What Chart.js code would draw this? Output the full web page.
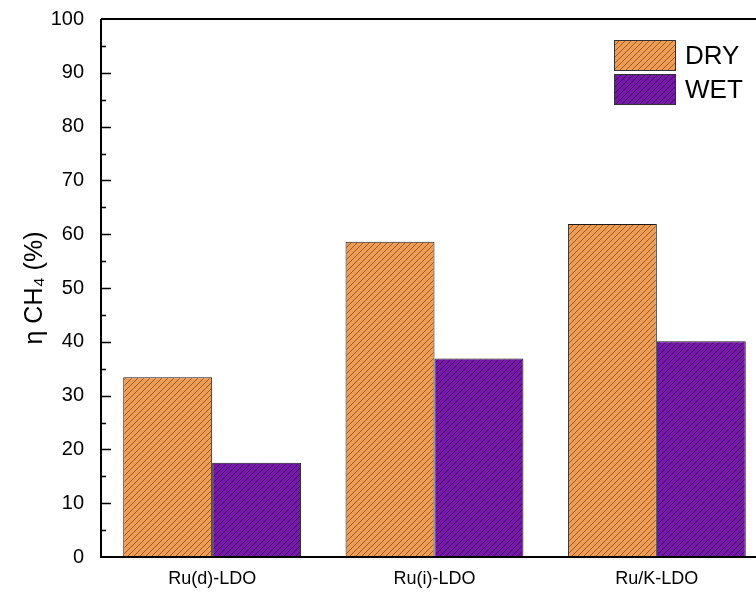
<!DOCTYPE html>
<html>
<head>
<meta charset="utf-8">
<script src="https://cdn.jsdelivr.net/npm/chart.js@4/dist/chart.umd.min.js"></script>
<style>
  html, body { margin: 0; padding: 0; background: #fff; overflow: hidden; }
  #wrap { width: 756px; height: 594px; overflow: hidden; }
</style>
</head>
<body>
<div id="wrap"><canvas id="chart" width="770" height="594"></canvas></div>
<script>
// data
const samples = ['Ru(d)-LDO', 'Ru(i)-LDO', 'Ru/K-LDO'];
const dryValues = [33.4, 58.6, 61.9];
const wetValues = [17.5, 36.9, 40.1];
const seriesNames = ['DRY', 'WET'];
const yTicks = [0, 10, 20, 30, 40, 50, 60, 70, 80, 90, 100];

const FONT = "'Liberation Sans', Arial, sans-serif";

// diagonal hatch, like the origin plot
function hatch(fill, line) {
    const s = 6;
    const c = document.createElement('canvas');
    c.width = s; c.height = s;
    const g = c.getContext('2d');
    g.fillStyle = fill;
    g.fillRect(0, 0, s, s);
    g.strokeStyle = line;
    g.lineWidth = 0.8;
    g.beginPath();
    g.moveTo(0, s); g.lineTo(s, 0);
    g.moveTo(-1, 1); g.lineTo(1, -1);
    g.moveTo(s - 1, s + 1); g.lineTo(s + 1, s - 1);
    g.stroke();
    return g.createPattern(c, 'repeat');
}

const dryFill = hatch('#EF9C54', 'rgba(80,40,10,0.7)');
const wetFill = hatch('#7818AA', 'rgba(25,0,40,0.75)');

// frame + inward ticks + legend
const framePlugin = {
    id: 'frame',
    afterDatasetsDraw(chart) {
        const ctx = chart.ctx;
        const a = chart.chartArea;
        const y = chart.scales.y;
        ctx.save();
        ctx.strokeStyle = '#000';
        ctx.lineWidth = 2;
        ctx.beginPath();
        ctx.moveTo(a.left, a.top); ctx.lineTo(a.right + 5, a.top);
        ctx.moveTo(a.left, a.top); ctx.lineTo(a.left, a.bottom);
        ctx.moveTo(a.left - 1, a.bottom); ctx.lineTo(a.right + 5, a.bottom);
        ctx.stroke();

        ctx.lineWidth = 1.5;
        ctx.beginPath();
        for (let v = 5; v < 100; v += 5) {
            const py = Math.round(y.getPixelForValue(v)) + 0.5;
            const len = v % 10 === 0 ? 10 : 5;
            ctx.moveTo(a.left, py); ctx.lineTo(a.left + len, py);
        }
        ctx.stroke();

        // legend
        const fills = [dryFill, wetFill];
        const bx = a.right - 154;
        let by = a.top + 21;
        ctx.font = '26px ' + FONT;
        ctx.textBaseline = 'middle';
        chart.data.datasets.forEach((ds, i) => {
            ctx.fillStyle = fills[i];
            ctx.fillRect(bx, by, 62, 31);
            ctx.strokeStyle = '#333';
            ctx.lineWidth = 1;
            ctx.strokeRect(bx + 0.5, by + 0.5, 61, 30);
            ctx.fillStyle = '#000';
            ctx.fillText(ds.label, bx + 71, by + 17);
            by += 34;
        });
        ctx.restore();
    }
};

new Chart('chart', {
    type: 'bar',
    data: {
        labels: samples,
        datasets: [{
            label: seriesNames[0],
            data: dryValues,
            backgroundColor: dryFill,
            borderColor: '#1a1a1a',
            borderWidth: 1
        }, {
            label: seriesNames[1],
            data: wetValues,
            backgroundColor: wetFill,
            borderColor: '#1a1a1a',
            borderWidth: 1
        }]
    },
    options: {
        responsive: false,
        animation: false,
        devicePixelRatio: 1,
        layout: { padding: { left: 16, top: 19, right: 2, bottom: 0 } },
        categoryPercentage: 0.8,
        barPercentage: 1.0,
        plugins: {
            legend: { display: false },
            tooltip: { enabled: false }
        },
        scales: {
            x: {
                grid: { display: false, drawTicks: false },
                border: { display: false },
                ticks: { color: '#000', font: { family: FONT, size: 18 }, padding: 11 },
                afterFit(scale) {
                    scale.height = 37;
                    scale.paddingLeft = 0; scale.paddingRight = 0;
                }
            },
            y: {
                min: 0,
                max: 100,
                afterBuildTicks(scale) { scale.ticks = yTicks.map(v => ({ value: v })); },
                grid: { display: false, drawTicks: false },
                border: { display: false },
                ticks: { color: '#000', font: { family: FONT, size: 20 }, padding: 17 },
                title: {
                    display: true,
                    text: 'η CH₄ (%)',
                    color: '#000',
                    font: { family: FONT, size: 25 },
                    padding: { top: 4, bottom: 0 }
                },
                afterFit(scale) {
                    scale.width = 85;
                    scale.paddingTop = 0; scale.paddingBottom = 0;
                }
            }
        }
    },
    plugins: [framePlugin]
});
</script>
</body>
</html>
